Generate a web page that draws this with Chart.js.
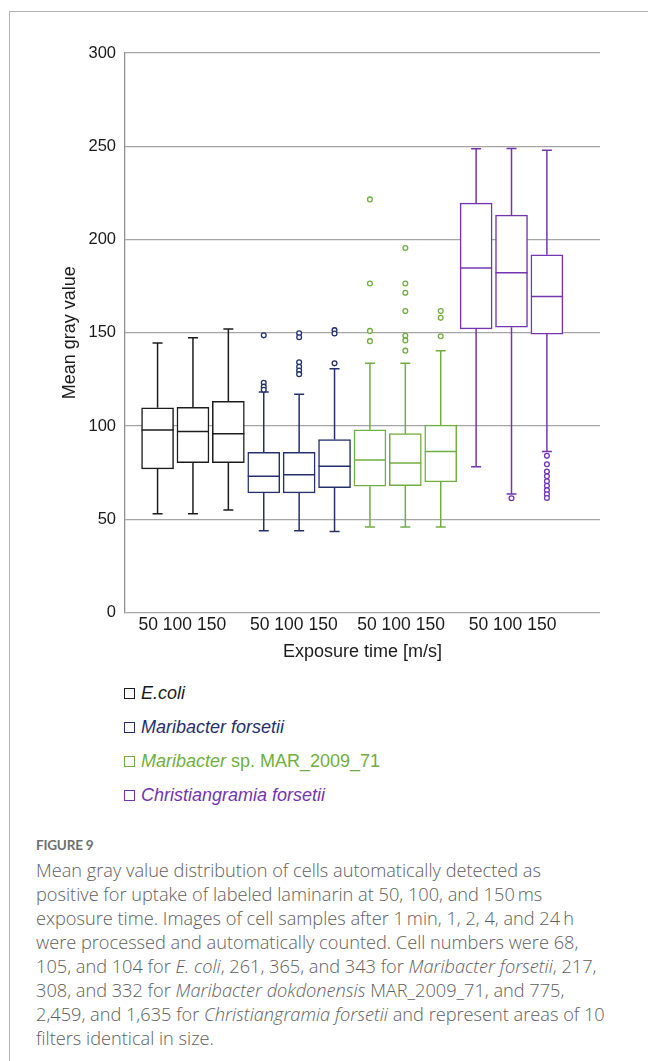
<!DOCTYPE html>
<html>
<head>
<meta charset="utf-8">
<script src="https://cdn.jsdelivr.net/npm/chart.js@4.4.1/dist/chart.umd.min.js"></script>
<style>
  html, body { margin: 0; padding: 0; background: #fff; }
  body { width: 648px; height: 1061px; position: relative; overflow: hidden; font-family: 'Liberation Sans', Arial, sans-serif; }
  #frame { position: absolute; left: 9px; top: 11px; width: 700px; height: 1100px; border-left: 1.5px solid #b4b4b4; border-top: 1.5px solid #b4b4b4; }
  #chartBox { position: absolute; left: 0; top: 0; width: 648px; height: 680px; }
  .legend { position: absolute; left: 124px; top: 682px; }
  .legend div { height: 34px; line-height: 22px; font-size: 18px; font-style: italic; white-space: nowrap; }
  .legend span.sq { display: inline-block; width: 9px; height: 9px; border: 1.3px solid currentColor; margin-right: 6px; vertical-align: 0px; }
  .legend .up { font-style: normal; }
  .cap { position: absolute; left: 36px; top: 834px; color: #5e5e5e; font-family: 'Open Sans', Lato, sans-serif; }
  .cap .fig { font-family: Lato, sans-serif; font-size: 13.5px; font-weight: 700; color: #6e6e6e; letter-spacing: -0.2px; height: 24px; line-height: 22px; }
  .cap .txt { font-size: 18.2px; font-weight: 300; line-height: 24px; white-space: nowrap; }
</style>
</head>
<body>
<div id="frame"></div>
<div id="chartBox"><canvas id="boxChart" width="648" height="680"></canvas></div>
<div class="legend" id="legend"></div>
<div class="cap">
  <div class="fig">FIGURE 9</div>
  <div class="txt">Mean gray value distribution of cells automatically detected as<br>positive for uptake of labeled laminarin at 50, 100, and 150&#8201;ms<br>exposure time. Images of cell samples after 1&#8201;min, 1, 2, 4, and 24&#8201;h<br>were processed and automatically counted. Cell numbers were 68,<br>105, and 104 for <i>E. coli</i>, 261, 365, and 343 for <i>Maribacter forsetii</i>, 217,<br>308, and 332 for <i>Maribacter dokdonensis</i> MAR_2009_71, and 775,<br>2,459, and 1,635 for <i>Christiangramia forsetii</i> and represent areas of 10<br>filters identical in size.</div>
</div>
<script>
// series (species) and exposure categories
const species = ['E.coli', 'Maribacter forsetii', 'Maribacter sp. MAR_2009_71', 'Christiangramia forsetii'];
const speciesColors = ['#1c1c1c', '#24306e', '#70ae40', '#7434b0'];
const exposures = ['50', '100', '150'];
const xTickLabels = ['50 100 150', '50 100 150', '50 100 150', '50 100 150'];

// one entry per box: E50 E100 E150, MF50.., MS50.., CF50..
const whiskerHigh = [144.5, 147.3, 152.0, 118.2, 117.0, 130.7, 133.6, 133.6, 140.4, 248.6, 248.8, 247.9];
const q3 =          [109.8, 110.0, 113.2, 85.9, 85.9, 92.7, 98.0, 95.9, 100.5, 219.5, 213.1, 191.8];
const median =      [97.9, 97.1, 95.9, 73.0, 73.9, 78.4, 81.8, 80.2, 86.3, 184.7, 182.2, 169.5];
const q1 =          [77.0, 80.4, 80.4, 64.1, 64.1, 67.0, 67.7, 68.0, 70.0, 152.1, 153.0, 149.3];
const whiskerLow =  [53.0, 53.0, 55.0, 43.9, 43.9, 43.4, 45.9, 45.9, 45.9, 78.2, 63.6, 86.3];
const outliers = [
    [], [], [],
    [148.6, 123.2, 121.1, 119.4],
    [149.7, 147.6, 134.2, 131.8, 129.7, 127.8],
    [151.4, 149.6, 133.6],
    [221.5, 176.4, 151.0, 145.5],
    [195.4, 176.4, 171.4, 161.6, 148.4, 145.9, 140.4],
    [161.6, 158.0, 148.1],
    [],
    [61.3],
    [84.0, 79.5, 75.6, 73.0, 70.4, 68.0, 65.6, 63.4, 61.4]
];

const boxX = whiskerHigh.map((_, i) => i);
const colorOf = i => speciesColors[Math.floor(i / exposures.length)];
const boxColors = boxX.map(colorOf);

const FONT = "'Liberation Sans', Arial, sans-serif";
Chart.defaults.font.family = FONT;
Chart.defaults.color = '#1a1a1a';

// whisker lines, one dataset per species (null = gap)
const whiskerSets = species.map((name, s) => {
    const pts = [];
    for (let k = 0; k < exposures.length; k++) {
        const i = s * exposures.length + k;
        pts.push({ x: i, y: whiskerLow[i] }, { x: i, y: q1[i] }, { x: i, y: null });
        pts.push({ x: i, y: q3[i] }, { x: i, y: whiskerHigh[i] }, { x: i, y: null });
    }
    return {
        type: 'line', label: name + ' whiskers', data: pts,
        borderColor: speciesColors[s], borderWidth: 1.5,
        pointRadius: 0, spanGaps: false, tension: 0
    };
});

const capPoints = [];
const capColors = [];
boxX.forEach(i => {
    capPoints.push({ x: i, y: whiskerLow[i] }, { x: i, y: whiskerHigh[i] });
    capColors.push(colorOf(i), colorOf(i));
});

const outPoints = [];
const outColors = [];
outliers.forEach((list, i) => list.forEach(v => {
    outPoints.push({ x: i, y: v });
    outColors.push(colorOf(i));
}));

new Chart(document.getElementById('boxChart'), {
    type: 'bar',
    data: {
        datasets: [
            {
                type: 'scatter', label: 'outliers', data: outPoints,
                pointStyle: 'circle', pointRadius: 2.4, pointBorderWidth: 1.3,
                pointBackgroundColor: '#fff', pointBorderColor: outColors
            },
            {
                type: 'scatter', label: 'medians', data: boxX.map(i => ({ x: i, y: median[i] })),
                pointStyle: 'line', pointRadius: 16, pointBorderWidth: 1.5,
                pointBorderColor: boxColors
            },
            {
                type: 'scatter', label: 'caps', data: capPoints,
                pointStyle: 'line', pointRadius: 5, pointBorderWidth: 1.5,
                pointBorderColor: capColors
            },
            {
                type: 'bar', label: 'boxes',
                data: boxX.map(i => ({ x: i, y: [q1[i], q3[i]] })),
                backgroundColor: '#ffffff', borderColor: boxColors,
                borderWidth: 1.5, borderSkipped: false,
                barThickness: 32, grouped: false
            },
            ...whiskerSets
        ]
    },
    options: {
        responsive: false,
        animation: false,
        events: [],
        layout: { padding: { top: 53, right: 48, bottom: 17, left: 59 } },
        plugins: { legend: { display: false }, tooltip: { enabled: false } },
        scales: {
            x: {
                type: 'linear', min: -0.92, max: 12.5, offset: false,
                grid: { display: false, offset: false },
                border: { display: false },
                afterBuildTicks: axis => {
                    axis.ticks = [0.7, 3.85, 6.88, 10.03].map(v => ({ value: v }));
                },
                afterFit: axis => { axis.height = 50.5; },
                ticks: {
                    autoSkip: false, maxRotation: 0, padding: -6,
                    font: { size: 17.5 }, color: '#1a1a1a',
                    callback: (v, i) => xTickLabels[i]
                },
                title: { display: true, text: 'Exposure time [m/s]', font: { size: 18 }, color: '#1a1a1a', padding: 0 }
            },
            y: {
                min: 0, max: 300,
                afterFit: axis => { axis.width = 66; },
                ticks: { stepSize: 50, padding: 9, font: { size: 16.5 }, color: '#1a1a1a' },
                grid: { color: '#a5a5a5', lineWidth: 1.3, drawTicks: false },
                border: { display: true, color: '#8f8f8f', width: 1.3 },
                title: { display: true, text: 'Mean gray value', font: { size: 18 }, color: '#1a1a1a', padding: 0 }
            }
        }
    }
});

// legend as html (mixed italic text)
const legendHtml = [
    '<i>E.coli</i>',
    '<i>Maribacter forsetii</i>',
    '<i>Maribacter</i><span class="up"> sp. MAR_2009_71</span>',
    '<i>Christiangramia forsetii</i>'
];
document.getElementById('legend').innerHTML = species.map((s, k) =>
    `<div style="color:${speciesColors[k]}"><span class="sq"></span>${legendHtml[k]}</div>`).join('');
</script>
</body>
</html>
